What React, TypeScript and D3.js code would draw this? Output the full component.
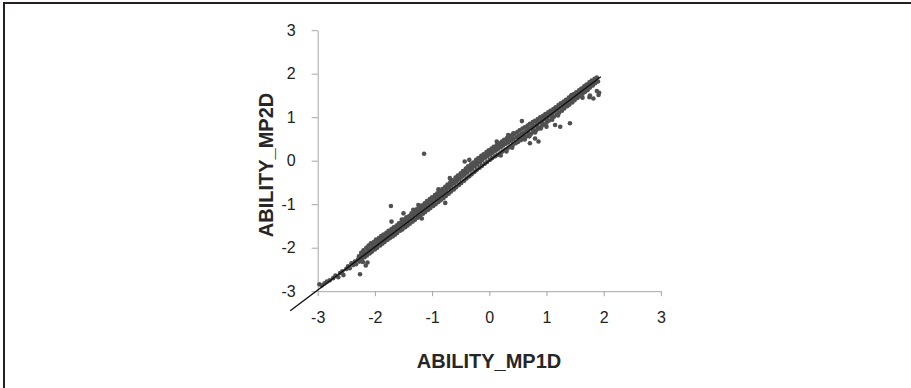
import React, { useEffect, useRef } from 'react'
import * as d3 from 'd3'

const width = 911, height = 388

const tickValues = [-3, -2, -1, 0, 1, 2, 3]
const xLabel = 'ABILITY_MP1D'
const yLabel = 'ABILITY_MP2D'

// ability estimates: [MP1D, MP2D]
const bandUpper: [number, number][] = [
    [-2.28,-2.20],[-2.24,-2.12],[-2.20,-2.06],[-2.15,-2.00],[-2.11,-1.95],[-2.07,-1.90],[-2.02,-1.87],[-1.98,-1.81],
    [-1.93,-1.78],[-1.89,-1.73],[-1.85,-1.70],[-1.80,-1.66],[-1.76,-1.61],[-1.71,-1.57],[-1.67,-1.53],[-1.62,-1.49],
    [-1.58,-1.44],[-1.53,-1.40],[-1.49,-1.35],[-1.45,-1.30],[-1.40,-1.27],[-1.36,-1.21],[-1.31,-1.17],[-1.27,-1.12],
    [-1.22,-1.07],[-1.18,-1.03],[-1.13,-0.98],[-1.09,-0.93],[-1.04,-0.88],[-1.00,-0.84],[-0.95,-0.79],[-0.91,-0.75],
    [-0.86,-0.70],[-0.82,-0.65],[-0.77,-0.60],[-0.73,-0.55],[-0.68,-0.49],[-0.64,-0.45],[-0.59,-0.39],[-0.55,-0.34],
    [-0.50,-0.29],[-0.46,-0.24],[-0.41,-0.18],[-0.37,-0.13],[-0.32,-0.08],[-0.28,-0.04],[-0.23,0.02],[-0.19,0.06],
    [-0.14,0.11],[-0.10,0.15],[-0.05,0.20],[-0.01,0.24],[0.04,0.28],[0.08,0.32],[0.13,0.36],[0.17,0.40],
    [0.22,0.44],[0.26,0.48],[0.31,0.52],[0.35,0.55],[0.40,0.59],[0.44,0.62],[0.49,0.66],[0.53,0.70],
    [0.58,0.74],[0.62,0.77],[0.67,0.81],[0.71,0.85],[0.76,0.89],[0.80,0.92],[0.85,0.96],[0.89,1.00],
    [0.94,1.03],[0.98,1.07],[1.03,1.11],[1.07,1.15],[1.12,1.19],[1.16,1.23],[1.21,1.28],[1.25,1.32],
    [1.30,1.36],[1.34,1.40],[1.39,1.45],[1.43,1.49],[1.48,1.53],[1.52,1.57],[1.57,1.62],[1.61,1.66],
    [1.66,1.71],[1.70,1.75],[1.75,1.80],[1.79,1.84],[1.84,1.88],[1.88,1.91]
]

const bandCore: [number, number][] = [
    [-2.30,-2.28],[-2.25,-2.21],[-2.21,-2.16],[-2.17,-2.13],[-2.12,-2.06],[-2.08,-2.03],[-2.04,-1.97],[-1.99,-1.94],
    [-1.95,-1.89],[-1.91,-1.85],[-1.86,-1.80],[-1.82,-1.77],[-1.78,-1.72],[-1.73,-1.67],[-1.69,-1.64],[-1.64,-1.58],
    [-1.60,-1.55],[-1.56,-1.50],[-1.51,-1.46],[-1.47,-1.41],[-1.42,-1.36],[-1.38,-1.33],[-1.33,-1.27],[-1.29,-1.22],
    [-1.24,-1.18],[-1.20,-1.14],[-1.15,-1.09],[-1.11,-1.05],[-1.06,-1.00],[-1.02,-0.95],[-0.97,-0.91],[-0.93,-0.86],
    [-0.88,-0.81],[-0.84,-0.77],[-0.79,-0.72],[-0.75,-0.67],[-0.70,-0.62],[-0.66,-0.57],[-0.61,-0.52],[-0.57,-0.47],
    [-0.52,-0.42],[-0.48,-0.37],[-0.43,-0.32],[-0.39,-0.27],[-0.34,-0.22],[-0.30,-0.18],[-0.25,-0.12],[-0.21,-0.08],
    [-0.16,-0.03],[-0.12,0.02],[-0.07,0.07],[-0.03,0.11],[0.02,0.15],[0.06,0.19],[0.11,0.23],[0.15,0.27],
    [0.20,0.31],[0.24,0.35],[0.29,0.39],[0.33,0.42],[0.38,0.46],[0.42,0.50],[0.47,0.54],[0.51,0.57],
    [0.56,0.61],[0.60,0.65],[0.65,0.69],[0.69,0.73],[0.74,0.77],[0.78,0.80],[0.83,0.84],[0.87,0.88],
    [0.92,0.92],[0.96,0.96],[1.01,1.00],[1.05,1.04],[1.10,1.09],[1.14,1.13],[1.19,1.17],[1.23,1.21],
    [1.28,1.26],[1.32,1.30],[1.37,1.35],[1.41,1.39],[1.46,1.44],[1.50,1.48],[1.55,1.53],[1.59,1.57],
    [1.64,1.62],[1.68,1.66],[1.73,1.71],[1.77,1.75],[1.82,1.80],[1.86,1.84]
]

const bandLower: [number, number][] = [
    [-2.27,-2.32],[-2.23,-2.27],[-2.18,-2.22],[-2.14,-2.18],[-2.09,-2.13],[-2.05,-2.09],[-2.00,-2.04],[-1.96,-2.00],
    [-1.91,-1.95],[-1.87,-1.91],[-1.83,-1.87],[-1.78,-1.82],[-1.74,-1.78],[-1.69,-1.74],[-1.65,-1.70],[-1.61,-1.66],
    [-1.56,-1.61],[-1.52,-1.58],[-1.47,-1.53],[-1.43,-1.49],[-1.39,-1.45],[-1.34,-1.40],[-1.30,-1.36],[-1.25,-1.31],
    [-1.21,-1.27],[-1.16,-1.22],[-1.12,-1.18],[-1.07,-1.13],[-1.03,-1.09],[-0.98,-1.04],[-0.94,-1.00],[-0.89,-0.95],
    [-0.85,-0.91],[-0.80,-0.86],[-0.76,-0.81],[-0.71,-0.76],[-0.67,-0.71],[-0.62,-0.66],[-0.58,-0.61],[-0.53,-0.56],
    [-0.49,-0.51],[-0.44,-0.46],[-0.40,-0.41],[-0.35,-0.36],[-0.31,-0.31],[-0.26,-0.26],[-0.22,-0.21],[-0.17,-0.16],
    [-0.13,-0.12],[-0.08,-0.07],[-0.04,-0.03],[0.01,0.02],[0.05,0.06],[0.10,0.10],[0.14,0.13],[0.19,0.17],
    [0.23,0.21],[0.28,0.25],[0.32,0.28],[0.37,0.32],[0.41,0.36],[0.46,0.40],[0.50,0.43],[0.55,0.47],
    [0.59,0.51],[0.64,0.55],[0.68,0.58],[0.73,0.62],[0.77,0.66],[0.82,0.70],[0.86,0.74],[0.91,0.78],
    [0.95,0.83],[1.00,0.87],[1.04,0.92],[1.09,0.96],[1.13,1.01],[1.18,1.06],[1.22,1.10],[1.27,1.15],
    [1.31,1.20],[1.36,1.25],[1.40,1.29],[1.45,1.34],[1.49,1.39],[1.54,1.44],[1.58,1.48],[1.63,1.54],
    [1.67,1.58],[1.72,1.63],[1.76,1.68],[1.81,1.73],[1.85,1.78],[1.90,1.82]
]

const bandFill: [number, number][] = [
    [-0.69,-0.53],[-0.63,-0.47],[-0.56,-0.40],[-0.49,-0.32],[-0.42,-0.25],[-0.35,-0.17],[-0.29,-0.11],[-0.22,-0.04],
    [-0.15,0.03],[-0.09,0.09],[-0.02,0.16],[0.05,0.22],[0.12,0.28],[0.18,0.34],[0.25,0.40],[0.32,0.46],[0.39,0.53],
    [0.52,0.52],[0.60,0.58],[0.68,0.65],[0.76,0.72],[0.84,0.79],[0.92,0.87],[1.00,0.94],[1.08,1.03],
    [0.20,0.12],[0.30,0.21],[0.40,0.30],[0.62,0.49],[0.70,0.56],[0.80,0.65],[0.90,0.74],[1.10,0.94],[1.20,1.04]
]

const stragglers: [number, number][] = [
    [-2.97,-2.84],[-2.93,-2.87],[-2.88,-2.82],[-2.84,-2.78],[-2.79,-2.75],[-2.73,-2.70],[-2.69,-2.64],[-2.64,-2.68],
    [-2.61,-2.58],[-2.57,-2.54],[-2.55,-2.63],[-2.50,-2.49],[-2.47,-2.43],[-2.44,-2.47],[-2.41,-2.36],[-2.38,-2.40],
    [-2.35,-2.32],[-2.33,-2.38],[-2.26,-2.61],[-2.21,-2.33],[-2.16,-2.41],[-2.13,-2.34],
    [-1.72,-1.04],[-1.71,-1.40],[-1.53,-1.35],[-1.50,-1.21],[-1.33,-1.13],[-1.24,-1.02],[-1.18,-1.33],[-1.14,0.16],
    [-0.89,-0.66],[-0.77,-0.97],[-0.69,-0.40],[-0.43,-0.02],[-0.35,0.02],[-0.28,-0.06],[0.13,0.44],[0.33,0.59],
    [0.42,0.63],[0.57,0.91],[0.71,0.40],[0.80,0.51],[0.86,0.44],[1.00,0.78],[1.15,0.82],[1.24,0.78],
    [1.41,0.86],[1.44,1.51],[1.63,1.45],[1.71,1.62],[1.75,1.46],[1.76,1.50],[1.82,1.43],[1.88,1.60],
    [1.91,1.51],[1.92,1.56]
]

const fitX = [-3.48, 1.95]
const fitY = [-3.45, 1.93]

export default function App() {
    const ref = useRef<SVGSVGElement>(null)

    useEffect(() => {
        const svg = d3.select(ref.current)
        svg.selectAll('*').remove()

        const x = d3.scaleLinear().domain([-3, 3]).range([317.7, 660.9])
        const y = d3.scaleLinear().domain([-3, 3]).range([291.2, 30.2])

        // frame (left + top edge only)
        svg.append('path')
            .attr('d', 'M4,388V3H911')
            .attr('fill', 'none')
            .attr('stroke', '#231f20')
            .attr('stroke-width', 2)

        const styleAxis = g => g
            .attr('font-family', "'Liberation Sans', Arial, sans-serif")
            .attr('font-size', 16)
            .call(g => g.select('.domain').attr('stroke', '#a6a6a6'))
            .call(g => g.selectAll('.tick line').attr('stroke', '#a6a6a6'))
            .call(g => g.selectAll('.tick text').attr('fill', '#222'))

        svg.append('g')
            .attr('transform', `translate(${x(-3)},0)`)
            .call(d3.axisLeft(y).tickValues(tickValues).tickSize(6).tickSizeOuter(0).tickPadding(16).tickFormat(d => String(d)))
            .call(styleAxis)

        svg.append('g')
            .attr('transform', `translate(0,${y(-3)})`)
            .call(d3.axisBottom(x).tickValues(tickValues).tickSize(5).tickSizeOuter(0).tickPadding(15).tickFormat(d => String(d)))
            .call(styleAxis)

        const points = [...stragglers, ...bandLower, ...bandCore, ...bandFill, ...bandUpper]

        svg.append('g')
            .attr('fill', '#505050')
            .selectAll('circle')
            .data(points)
            .join('circle')
            .attr('cx', d => x(d[0]))
            .attr('cy', d => y(d[1]))
            .attr('r', 2.3)

        svg.append('path')
            .datum(fitX.map((v, i) => [v, fitY[i]]))
            .attr('fill', 'none')
            .attr('stroke', '#111')
            .attr('stroke-width', 1.4)
            .attr('d', d3.line().x(d => x(d[0])).y(d => y(d[1])))

        svg.append('text')
            .attr('x', 489)
            .attr('y', 368)
            .attr('text-anchor', 'middle')
            .attr('font-family', "'Liberation Sans', Arial, sans-serif")
            .attr('font-weight', 'bold')
            .attr('font-size', 20)
            .attr('fill', '#262626')
            .text(xLabel)

        svg.append('text')
            .attr('transform', 'translate(273,165) rotate(-90)')
            .attr('text-anchor', 'middle')
            .attr('font-family', "'Liberation Sans', Arial, sans-serif")
            .attr('font-weight', 'bold')
            .attr('font-size', 20)
            .attr('fill', '#262626')
            .text(yLabel)
    }, [])

    return (
        <svg ref={ref} width={width} height={height} style={{ position: 'absolute', left: 0, top: 0, background: '#fff' }} />
    )
}
